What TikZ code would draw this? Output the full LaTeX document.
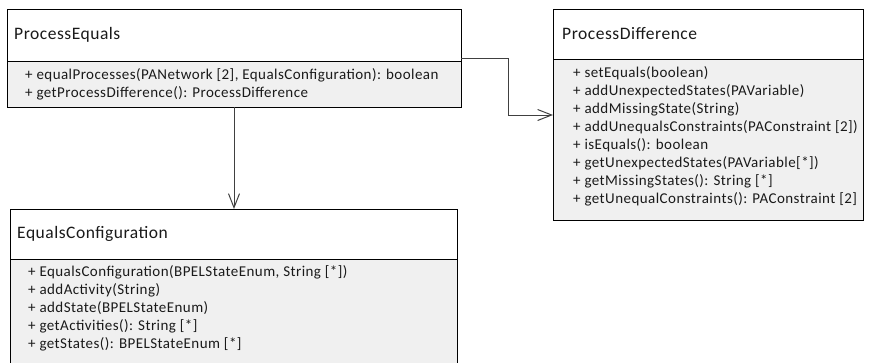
\documentclass[tikz,border=0pt]{standalone}
\usepackage{fontspec}
\setmainfont{Carlito}
\newfontfamily\titlefont[LetterSpace=3]{Carlito}
\newfontfamily\memberfont[LetterSpace=3]{Carlito}
\usetikzlibrary{arrows.meta}
\definecolor{bodyfill}{HTML}{F0F0F0}
\definecolor{linkgray}{HTML}{404040}
\definecolor{txt}{HTML}{1A1A1A}

\begin{document}
\begin{tikzpicture}[x=1pt,y=-1pt,
  header/.style={draw=black, line width=1pt, fill=white, anchor=north west,
    inner sep=0pt, outer sep=0pt},
  body/.style={draw=black, line width=1pt, fill=bodyfill, anchor=north west,
    inner sep=0pt, outer sep=0pt},
  classname/.style={anchor=west, inner sep=0pt,
    font=\titlefont\fontsize{17.5}{20}\selectfont, text=txt},
  members/.style={anchor=north west, inner sep=0pt, align=left,
    font=\memberfont\fontsize{15}{18}\selectfont, text=txt},
  link/.style={draw=linkgray, line width=1pt,
    -{Straight Barb[length=14pt,width=11pt,line width=1pt]}}]

\useasboundingbox (0,0) rectangle (873,362);
\clip (0,0) rectangle (873,362);

% ProcessEquals
\node[header, minimum width=454pt, minimum height=52pt] (peHead) at (7,9) {};
\node[body, minimum width=454pt, minimum height=46pt] (peBody) at (7,61) {};
\node[classname] (peTitle) at (14,35) {ProcessEquals};
\node[members] (peOps) at (25,68) {%
  + equalProcesses(PANetwork [2], EqualsConfiguration): boolean\\
  + getProcessDifference(): ProcessDifference};

% ProcessDifference
\node[header, minimum width=310pt, minimum height=50pt] (pdHead) at (553,9) {};
\node[body, minimum width=310pt, minimum height=161pt] (pdBody) at (553,59) {};
\node[classname] (pdTitle) at (562,34) {ProcessDifference};
\node[members] (pdOps) at (573,66) {%
  + setEquals(boolean)\\
  + addUnexpectedStates(PAVariable)\\
  + addMissingState(String)\\
  + addUnequalsConstraints(PAConstraint [2])\\
  + isEquals(): boolean\\
  + getUnexpectedStates(PAVariable[*])\\
  + getMissingStates(): String [*]\\
  + getUnequalConstraints(): PAConstraint [2]};

% EqualsConfiguration (runs past the lower edge)
\node[header, minimum width=447pt, minimum height=50pt] (ecHead) at (10,209) {};
\node[body, minimum width=447pt, minimum height=130pt] (ecBody) at (10,259) {};
\node[classname] (ecTitle) at (17,234) {EqualsConfiguration};
\node[members] (ecOps) at (28,265) {%
  + EqualsConfiguration(BPELStateEnum, String [*])\\
  + addActivity(String)\\
  + addState(BPELStateEnum)\\
  + getActivities(): String [*]\\
  + getStates(): BPELStateEnum [*]};

% associations
\draw[link] (peBody.south) -- (peBody.south |- ecHead.north);
\draw[link] ([yshift=3pt]peBody.north east) -- ++(47,0)
  |- ([yshift=-56pt]pdBody.north west);
\end{tikzpicture}
\end{document}
